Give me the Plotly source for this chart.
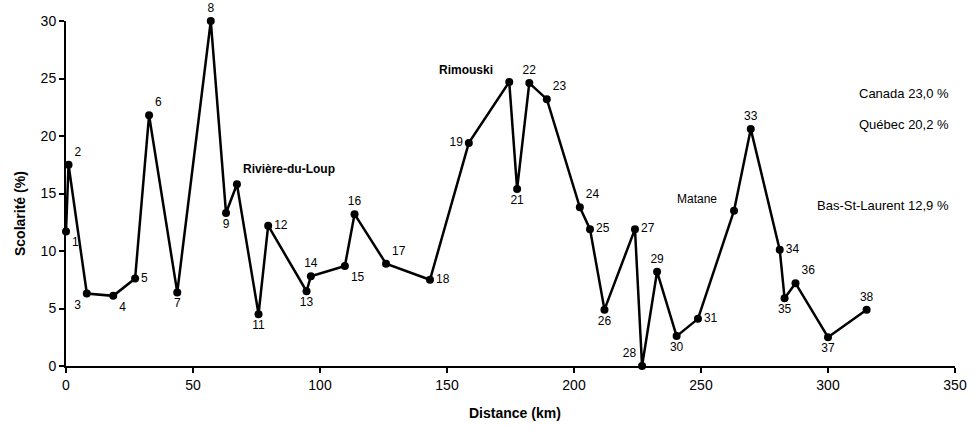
import plotly.graph_objects as go

distance_km = [0, 1, 8.2, 18.6, 27.2, 32.7, 43.8, 57, 63, 67.3,
               75.8, 79.6, 94.7, 96.4, 109.8, 113.6, 126, 143.3, 158.6, 174.5,
               177.6, 182.4, 189.3, 202.3, 206.3, 212, 224, 226.8, 232.7, 240.4,
               248.8, 263, 269.6, 281, 282.9, 287.2, 300, 315.2]
scolarite = [11.7, 17.5, 6.3, 6.1, 7.6, 21.8, 6.4, 30.0, 13.3, 15.8,
             4.5, 12.2, 6.5, 7.8, 8.7, 13.2, 8.9, 7.5, 19.4, 24.7,
             15.4, 24.6, 23.2, 13.8, 11.9, 4.9, 11.9, 0.0, 8.2, 2.6,
             4.1, 13.5, 20.6, 10.1, 5.9, 7.2, 2.5, 4.9]
point_ids = [str(i) for i in range(1, 39)]
named_points = {10: "Rivière-du-Loup", 20: "Rimouski", 32: "Matane"}
reference_texts = ["Canada 23,0 %", "Québec 20,2 %", "Bas-St-Laurent 12,9 %"]
x_ticks = [0, 50, 100, 150, 200, 250, 300, 350]
y_ticks = [0, 5, 10, 15, 20, 25, 30]

positions = {
    1: "bottom right", 2: "top right", 3: "bottom left", 4: "bottom right",
    5: "middle right", 6: "top right", 7: "bottom center", 8: "top center",
    9: "bottom center", 11: "bottom center", 12: "middle right", 13: "bottom center",
    14: "top center", 15: "bottom right", 16: "top center", 17: "top right",
    18: "middle right", 19: "middle left", 21: "bottom center", 22: "top center",
    23: "top right", 24: "top right", 25: "middle right", 26: "bottom center",
    27: "middle right", 28: "top left", 29: "top center", 30: "bottom center",
    31: "middle right", 33: "top center", 34: "middle right", 35: "bottom center",
    36: "top right", 37: "bottom center", 38: "top center",
}

labels = []
tpos = []
for i, pid in enumerate(point_ids, start=1):
    if i in named_points:
        labels.append("")
        tpos.append("top center")
    else:
        labels.append(pid)
        tpos.append(positions[i])

FONT = "Liberation Sans, Arial, sans-serif"

W, H = 979, 429
ML, MR, MT, MB = 66, 24, 21, 63
PW, PH = W - ML - MR, H - MT - MB  # 889 x 345


def px_to_paper_x(px):
    return (px - ML) / PW


def px_to_paper_y(py):
    return (MT + PH - py) / PH


fig = go.Figure()
fig.add_trace(go.Scatter(
    x=distance_km, y=scolarite, mode="lines+markers+text",
    text=labels, textposition=tpos,
    textfont=dict(family=FONT, size=12, color="black"),
    line=dict(color="black", width=2.5),
    marker=dict(color="black", size=8),
    cliponaxis=False, showlegend=False, hoverinfo="x+y",
))

name_style = {
    10: dict(xanchor="left", xshift=4, yshift=15, bold=True),
    20: dict(xanchor="right", xshift=-14, yshift=12, bold=True),
    32: dict(xanchor="right", xshift=-15, yshift=12, bold=False),
}
for idx, name in named_points.items():
    st = name_style[idx]
    txt = f"<b>{name}</b>" if st["bold"] else name
    fig.add_annotation(x=distance_km[idx - 1], y=scolarite[idx - 1], text=txt,
                       showarrow=False, xanchor=st["xanchor"], yanchor="middle",
                       xshift=st["xshift"], yshift=st["yshift"],
                       font=dict(family=FONT, size=12, color="black"))

ref_y = [93, 125, 206]
for txt, py in zip(reference_texts, ref_y):
    fig.add_annotation(xref="paper", yref="paper", x=px_to_paper_x(951),
                       y=px_to_paper_y(py), text=txt, showarrow=False,
                       xanchor="right", yanchor="middle",
                       font=dict(family=FONT, size=13, color="black"))

fig.add_annotation(xref="paper", yref="paper", x=px_to_paper_x(515), y=px_to_paper_y(413),
                   text="<b>Distance (km)</b>", showarrow=False,
                   xanchor="center", yanchor="middle",
                   font=dict(family=FONT, size=14, color="black"))
fig.add_annotation(xref="paper", yref="paper", x=px_to_paper_x(20), y=px_to_paper_y(214),
                   text="<b>Scolarité (%)</b>", showarrow=False,
                   textangle=-90, xanchor="center", yanchor="middle",
                   font=dict(family=FONT, size=14, color="black"))

fig.update_layout(
    width=W, height=H,
    margin=dict(l=ML, r=MR, t=MT, b=MB, autoexpand=False),
    paper_bgcolor="white", plot_bgcolor="white",
    font=dict(family=FONT, size=14, color="black"),
    xaxis=dict(range=[0, 350], tickvals=x_ticks, showgrid=False, zeroline=False,
               showline=True, linecolor="black", linewidth=2,
               ticks="outside", ticklen=5, tickwidth=1.5, tickcolor="black",
               tickfont=dict(family=FONT, size=14)),
    yaxis=dict(range=[0, 30], tickvals=y_ticks, showgrid=False, zeroline=False,
               showline=True, linecolor="black", linewidth=2,
               ticks="outside", ticklen=5, tickwidth=1.5, tickcolor="black",
               tickfont=dict(family=FONT, size=14)),
)

# remove the default 8px page margin so the figure fills the window exactly
fig.write_html("out.html",
               config={"displayModeBar": False},
               post_script="document.body.style.margin='0';document.body.style.overflow='hidden';")
